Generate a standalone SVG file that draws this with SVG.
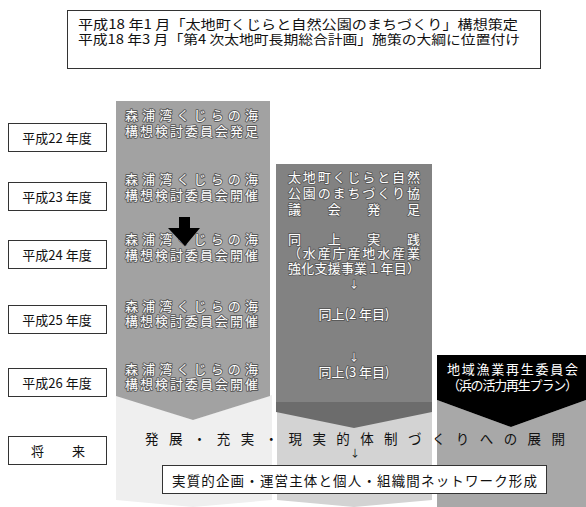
<svg xmlns="http://www.w3.org/2000/svg" width="586" height="507" viewBox="0 0 586 507">
<style>
text{font-family:"Noto Sans CJK JP","Noto Sans",sans-serif;dominant-baseline:central}
.box{fill:#fff;stroke:#333;stroke-width:1}
.yr{font-size:13px;fill:#111}
.top{font-size:13px;fill:#111}
.w{font-size:13px;fill:#fff;stroke:#5a5a5a;stroke-width:1.8;paint-order:stroke;stroke-linejoin:round}
.wb{font-size:13px;fill:#fff}
.blk{font-size:13.5px;fill:#111}
.ar{font-size:10px;text-anchor:middle}
</style>
<rect width="586" height="507" fill="#fff"/>
<g id="header">
<rect class="box" x="67.5" y="10.5" width="473" height="58" stroke="#555"/>
<text class="top" x="78" y="23" textLength="440" lengthAdjust="spacingAndGlyphs">平成18 年1 月「太地町くじらと自然公園のまちづくり」構想策定</text>
<text class="top" x="78" y="38" textLength="442" lengthAdjust="spacingAndGlyphs">平成18 年3 月「第4 次太地町長期総合計画」施策の大綱に位置付け</text>
</g>
<g id="band1">
<polygon points="116,395 193,420 272,395 272,500 193,507 116,500" fill="#efefef"/>
</g>
<g id="band2">
<polygon points="277,400 354,425 432,400 432,500 354,507 277,500" fill="#d3d3d3"/>
</g>
<g id="band3">
<polygon points="437,400 511,427 586,400 586,507 437,507" fill="#a8a8a8"/>
</g>
<g id="col1">
<polygon points="116,101 270,101 270,396 193,420 116,396" fill="#a2a2a2"/>
<text class="w" x="125" y="114" textLength="133">森浦湾くじらの海</text>
<text class="w" x="125" y="130" textLength="133">構想検討委員会発足</text>
<text class="w" x="125" y="178" textLength="133">森浦湾くじらの海</text>
<text class="w" x="125" y="194" textLength="133">構想検討委員会開催</text>
<text class="w" x="125" y="238" textLength="133">森浦湾くじらの海</text>
<text class="w" x="125" y="254" textLength="133">構想検討委員会開催</text>
<text class="w" x="125" y="305" textLength="133">森浦湾くじらの海</text>
<text class="w" x="125" y="320" textLength="133">構想検討委員会開催</text>
<text class="w" x="125" y="368" textLength="133">森浦湾くじらの海</text>
<text class="w" x="125" y="383" textLength="133">構想検討委員会開催</text>
</g>
<g id="col2">
<rect x="276" y="164" width="156" height="238" fill="#828282"/>
<polygon points="276,402 432,402 432,412 354,428 276,412" fill="#6c6c6c"/>
<text class="w" x="288" y="176" textLength="132">太地町くじらと自然</text>
<text class="w" x="288" y="192" textLength="132">公園のまちづくり協</text>
<text class="w" x="288" y="208" textLength="132">議　会　発　足</text>
<text class="w" x="288" y="238" textLength="132">同　上　実　践</text>
<text class="w" x="288" y="252" textLength="132">（水産庁産地水産業</text>
<text class="w" x="288" y="267" textLength="132">強化支援事業１年目）</text>
<text class="w ar" x="354" y="283">↓</text>
<text class="w" x="354" y="313" text-anchor="middle">同上(2 年目)</text>
<text class="w ar" x="354" y="356">↓</text>
<text class="w" x="354" y="371" text-anchor="middle">同上(3 年目)</text>
</g>
<g id="col3">
<polygon points="437,355 586,355 586,400 511,427 437,400" fill="#000"/>
<text class="wb" x="447" y="368" textLength="131">地域漁業再生委員会</text>
<text class="wb" x="447" y="384" textLength="131">（浜の活力再生プラン）</text>
</g>
<g id="years">
<rect class="box" x="8.5" y="123.5" width="98" height="28"/>
<text class="yr" x="57" y="137.5" text-anchor="middle">平成22 年度</text>
<rect class="box" x="8.5" y="182.5" width="98" height="28"/>
<text class="yr" x="57" y="196.5" text-anchor="middle">平成23 年度</text>
<rect class="box" x="8.5" y="240.5" width="98" height="28"/>
<text class="yr" x="57" y="254.5" text-anchor="middle">平成24 年度</text>
<rect class="box" x="8.5" y="305.5" width="98" height="28"/>
<text class="yr" x="57" y="319.5" text-anchor="middle">平成25 年度</text>
<rect class="box" x="8.5" y="368.5" width="98" height="28"/>
<text class="yr" x="57" y="382.5" text-anchor="middle">平成26 年度</text>
</g>
<g id="future-label">
<rect x="8.5" y="436.5" width="98" height="28" fill="#ffffff" stroke="#333" stroke-width="1"/>
<text class="yr" x="31" y="450.5" textLength="54">将　来</text>
</g>
<g id="future">
<text class="blk" x="145" y="438" textLength="420">発展・充実・現実的体制づくりへの展開</text>
<text class="blk ar" x="355" y="452">↓</text>
<rect class="box" x="162.5" y="465.5" width="384" height="28"/>
<text class="blk" x="172" y="480" textLength="365">実質的企画・運営主体と個人・組織間ネットワーク形成</text>
</g>
<g id="connectors">
<polygon points="179,217 190,217 190,228 200,228 185,246 168,228 179,228" fill="#000"/>
</g>
</svg>
